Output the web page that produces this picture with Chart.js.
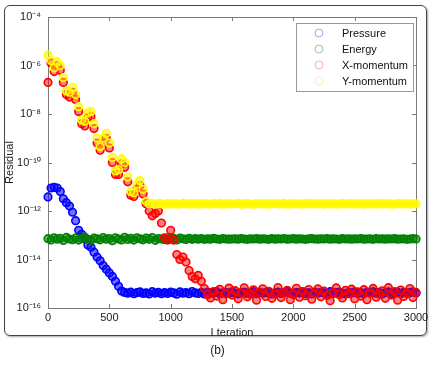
<!DOCTYPE html>
<html>
<head>
<meta charset="utf-8">
<script src="https://cdn.jsdelivr.net/npm/chart.js@4"></script>
<style>
  html, body { margin: 0; padding: 0; background: #fff; }
  #wrap { position: relative; width: 435px; height: 370px; }
  #frame { position: absolute; left: 4px; top: 5px; width: 421px; height: 329px;
           border: 1.5px solid #444; border-radius: 6px; box-shadow: 1px 1px 2px rgba(0,0,0,0.35); }
  #grafico { position: absolute; left: 0; top: 0; }
  #caption { position: absolute; left: 0; top: 343px; width: 435px; text-align: center;
             font: 12px "Liberation Sans", Arial, sans-serif; color: #222; }
</style>
</head>
<body>
<div id="wrap">
  <div id="frame"></div>
  <canvas id="grafico" width="435" height="370"></canvas>
  <div id="caption">(b)</div>
</div>
<script>
const iterations = [
  0, 25, 50, 75, 100, 125, 150, 175, 200, 225,
  250, 275, 300, 325, 350, 375, 400, 425, 450, 475,
  500, 525, 550, 575, 600, 625, 650, 675, 700, 725,
  750, 775, 800, 825, 850, 875, 900, 925, 950, 975,
  1000, 1025, 1050, 1075, 1100, 1125, 1150, 1175, 1200, 1225,
  1250, 1275, 1300, 1325, 1350, 1375, 1400, 1425, 1450, 1475,
  1500, 1525, 1550, 1575, 1600, 1625, 1650, 1675, 1700, 1725,
  1750, 1775, 1800, 1825, 1850, 1875, 1900, 1925, 1950, 1975,
  2000, 2025, 2050, 2075, 2100, 2125, 2150, 2175, 2200, 2225,
  2250, 2275, 2300, 2325, 2350, 2375, 2400, 2425, 2450, 2475,
  2500, 2525, 2550, 2575, 2600, 2625, 2650, 2675, 2700, 2725,
  2750, 2775, 2800, 2825, 2850, 2875, 2900, 2925, 2950, 2975,
  3000
];

const pressure = [
  3.8e-12, 8.9e-12, 9.5e-12, 8.9e-12, 6.3e-12, 3.2e-12, 2.2e-12, 1.6e-12, 8.9e-13, 4.0e-13,
  1.6e-13, 1.1e-13, 7.1e-14, 4.0e-14, 3.2e-14, 2.0e-14, 1.26e-14, 8.9e-15, 5.6e-15, 4.0e-15,
  2.8e-15, 2.0e-15, 1.26e-15, 7.9e-16, 5.0e-16, 4.4e-16, 4.1e-16, 4.5e-16, 3.9e-16, 4.3e-16,
  4.6e-16, 4.0e-16, 4.2e-16, 3.8e-16, 4.7e-16, 4.1e-16, 4.4e-16, 3.9e-16, 4.3e-16, 4.0e-16,
  4.5e-16, 4.2e-16, 3.7e-16, 4.6e-16, 4.1e-16, 4.3e-16, 3.9e-16, 4.8e-16, 4.2e-16, 4.0e-16,
  4.4e-16, 3.8e-16, 4.5e-16, 4.1e-16, 4.3e-16, 4.7e-16, 3.9e-16, 4.2e-16, 4.4e-16, 4.0e-16,
  4.6e-16, 4.1e-16, 3.8e-16, 4.3e-16, 4.5e-16, 4.0e-16, 4.2e-16, 4.7e-16, 3.9e-16, 4.4e-16,
  4.1e-16, 4.3e-16, 4.6e-16, 3.8e-16, 4.2e-16, 4.5e-16, 4.0e-16, 4.3e-16, 4.8e-16, 4.1e-16,
  3.9e-16, 4.4e-16, 4.2e-16, 4.6e-16, 4.0e-16, 4.3e-16, 3.8e-16, 4.5e-16, 4.1e-16, 4.4e-16,
  4.2e-16, 3.9e-16, 4.7e-16, 4.0e-16, 4.3e-16, 4.5e-16, 4.1e-16, 3.8e-16, 4.4e-16, 4.2e-16,
  4.6e-16, 4.0e-16, 4.3e-16, 3.9e-16, 4.5e-16, 4.2e-16, 4.7e-16, 4.1e-16, 4.4e-16, 3.8e-16,
  4.3e-16, 4.6e-16, 4.0e-16, 4.2e-16, 4.5e-16, 3.9e-16, 4.4e-16, 4.1e-16, 4.3e-16, 4.6e-16,
  4.2e-16
];

const energy = [
  7.2e-14, 6.4e-14, 7.9e-14, 6.9e-14, 7.5e-14, 6.1e-14, 8.1e-14, 7.0e-14, 6.6e-14, 7.7e-14,
  6.3e-14, 7.4e-14, 8.3e-14, 6.8e-14, 6.2e-14, 7.6e-14, 7.1e-14, 6.5e-14, 8.0e-14, 6.9e-14,
  7.3e-14, 6.0e-14, 7.8e-14, 7.0e-14, 6.4e-14, 8.2e-14, 6.7e-14, 7.5e-14, 6.3e-14, 7.9e-14,
  7.1e-14, 6.5e-14, 7.7e-14, 6.8e-14, 8.0e-14, 6.2e-14, 7.3e-14, 7.0e-14, 6.6e-14, 7.8e-14,
  6.9e-14, 7.4e-14, 6.4e-14, 7.6e-14, 7.1e-14, 6.7e-14, 7.5e-14, 6.8e-14, 7.2e-14, 6.9e-14,
  7.3e-14, 6.8e-14, 7.1e-14, 6.9e-14, 7.4e-14, 7.0e-14, 6.8e-14, 7.2e-14, 7.0e-14, 6.9e-14,
  7.0e-14, 7.1e-14, 6.9e-14, 7.2e-14, 7.0e-14, 6.8e-14, 7.1e-14, 7.0e-14, 7.2e-14, 6.9e-14,
  7.1e-14, 7.0e-14, 6.8e-14, 7.2e-14, 6.9e-14, 7.1e-14, 7.0e-14, 7.3e-14, 6.9e-14, 7.0e-14,
  7.2e-14, 6.9e-14, 7.1e-14, 7.0e-14, 6.8e-14, 7.1e-14, 7.2e-14, 7.0e-14, 6.9e-14, 7.1e-14,
  7.0e-14, 7.2e-14, 6.9e-14, 7.1e-14, 7.0e-14, 6.8e-14, 7.2e-14, 7.0e-14, 7.1e-14, 6.9e-14,
  7.1e-14, 7.0e-14, 7.2e-14, 6.9e-14, 7.0e-14, 7.1e-14, 6.8e-14, 7.2e-14, 7.0e-14, 7.1e-14,
  6.9e-14, 7.1e-14, 7.0e-14, 7.2e-14, 6.9e-14, 7.0e-14, 7.1e-14, 6.8e-14, 7.0e-14, 7.2e-14,
  7.0e-14
];

const xMomentum = [
  2.0e-7, 1.26e-6, 5.6e-7, 1.0e-6, 6.3e-7, 2.0e-7, 6.3e-8, 5.0e-8, 7.9e-8, 4.0e-8,
  1.26e-8, 4.0e-9, 3.2e-9, 7.1e-9, 7.9e-9, 2.5e-9, 6.3e-10, 3.2e-10, 6.3e-10, 1.0e-9,
  4.0e-10, 1.0e-10, 3.2e-11, 3.2e-11, 8.9e-11, 6.3e-11, 1.6e-11, 4.5e-12, 4.0e-12, 7.9e-12,
  1.12e-11, 5.0e-12, 2.0e-12, 1.0e-12, 6.3e-13, 7.9e-13, 1.0e-12, 3.2e-13, 7.9e-14, 6.3e-14,
  1.6e-13, 6.3e-14, 1.6e-14, 1.0e-14, 1.26e-14, 7.9e-15, 3.5e-15, 2.0e-15, 1.6e-15, 2.2e-15,
  1.26e-15, 6.3e-16, 3.5e-16, 2.6e-16, 4.8e-16, 3.1e-16, 5.9e-16, 2.2e-16, 3.9e-16, 6.6e-16,
  3.4e-16, 5.2e-16, 2.4e-16, 4.1e-16, 6.8e-16, 2.9e-16, 3.7e-16, 5.6e-16, 2.1e-16, 4.5e-16,
  6.2e-16, 3.0e-16, 4.9e-16, 2.5e-16, 3.8e-16, 7.0e-16, 2.7e-16, 4.3e-16, 5.4e-16, 2.2e-16,
  3.6e-16, 6.5e-16, 2.8e-16, 4.7e-16, 3.2e-16, 5.8e-16, 2.3e-16, 4.0e-16, 6.1e-16, 2.9e-16,
  5.0e-16, 3.3e-16, 2.0e-16, 4.4e-16, 6.7e-16, 3.5e-16, 2.6e-16, 5.3e-16, 3.9e-16, 6.0e-16,
  2.4e-16, 4.6e-16, 3.1e-16, 5.7e-16, 2.2e-16, 4.2e-16, 6.4e-16, 2.8e-16, 3.7e-16, 5.1e-16,
  2.5e-16, 6.9e-16, 3.4e-16, 4.8e-16, 2.1e-16, 5.5e-16, 3.0e-16, 4.1e-16, 6.3e-16, 2.7e-16,
  4.4e-16
];

const yMomentum = [
  2.7e-6, 1.6e-6, 7.9e-7, 1.4e-6, 1.0e-6, 3.2e-7, 8.9e-8, 7.9e-8, 1.26e-7, 6.3e-8,
  2.0e-8, 5.6e-9, 5.0e-9, 1.12e-8, 1.26e-8, 4.0e-9, 1.0e-9, 4.5e-10, 1.0e-9, 1.6e-9,
  6.3e-10, 1.6e-10, 4.5e-11, 5.0e-11, 1.4e-10, 1.0e-10, 2.5e-11, 6.3e-12, 5.6e-12, 1.26e-11,
  1.8e-11, 7.9e-12, 2.5e-12, 1.95e-12, 2.0e-12, 1.9e-12, 2.05e-12, 1.95e-12, 1.9e-12, 2.0e-12,
  1.92e-12, 2.02e-12, 1.95e-12, 1.9e-12, 2.05e-12, 1.98e-12, 1.93e-12, 2.0e-12, 1.96e-12, 1.91e-12,
  2.03e-12, 1.95e-12, 1.99e-12, 1.9e-12, 2.04e-12, 1.94e-12, 2.0e-12, 1.92e-12, 1.97e-12, 2.02e-12,
  1.93e-12, 1.98e-12, 2.05e-12, 1.91e-12, 1.96e-12, 2.01e-12, 1.94e-12, 1.9e-12, 2.03e-12, 1.97e-12,
  1.95e-12, 2.0e-12, 1.92e-12, 1.99e-12, 2.04e-12, 1.93e-12, 1.97e-12, 2.01e-12, 1.9e-12, 1.96e-12,
  2.02e-12, 1.94e-12, 1.98e-12, 1.91e-12, 2.05e-12, 1.95e-12, 2.0e-12, 1.93e-12, 1.97e-12, 2.03e-12,
  1.92e-12, 1.99e-12, 1.95e-12, 2.04e-12, 1.9e-12, 1.98e-12, 2.01e-12, 1.94e-12, 1.96e-12, 2.02e-12,
  1.93e-12, 2.0e-12, 1.97e-12, 1.91e-12, 2.03e-12, 1.95e-12, 1.99e-12, 1.92e-12, 2.05e-12, 1.96e-12,
  2.01e-12, 1.94e-12, 1.98e-12, 1.9e-12, 2.02e-12, 1.95e-12, 1.97e-12, 2.0e-12, 1.93e-12, 1.99e-12,
  1.95e-12
];

const xTicks = [0, 500, 1000, 1500, 2000, 2500, 3000];
const yTicks = [1e-16, 1e-14, 1e-12, 1e-10, 1e-8, 1e-6, 1e-4];

const fonte = { family: '"Liberation Sans", Arial, sans-serif', size: 11 };
const SUP = { '-': '\u207B', '0': '\u2070', '1': '\u00B9', '2': '\u00B2', '3': '\u00B3', '4': '\u2074',
              '5': '\u2075', '6': '\u2076', '7': '\u2077', '8': '\u2078', '9': '\u2079' };

function potencia(v) {
  const e = String(Math.round(Math.log10(v)));
  return '10' + e.split('').map(c => SUP[c]).join('');
}

function pontos(valores) {
  return iterations.map((it, i) => ({ x: it, y: valores[i] }));
}

// caixa dos eixos com marcas para dentro (estilo matlab)
const caixa = {
  id: 'caixa',
  beforeDatasetsDraw(chart) {
    const { ctx, chartArea: a, scales: { x, y } } = chart;
    ctx.save();
    ctx.strokeStyle = '#7a7a7a';
    ctx.lineWidth = 1;
    ctx.strokeRect(Math.round(a.left) + 0.5, Math.round(a.top) + 0.5,
                   Math.round(a.right - a.left), Math.round(a.bottom - a.top));
    ctx.beginPath();
    xTicks.forEach(v => {
      const px = Math.round(x.getPixelForValue(v)) + 0.5;
      ctx.moveTo(px, a.bottom); ctx.lineTo(px, a.bottom - 4);
      ctx.moveTo(px, a.top); ctx.lineTo(px, a.top + 4);
    });
    yTicks.forEach(v => {
      const py = Math.round(y.getPixelForValue(v)) + 0.5;
      ctx.moveTo(a.left, py); ctx.lineTo(a.left + 4, py);
      ctx.moveTo(a.right, py); ctx.lineTo(a.right - 4, py);
    });
    ctx.stroke();
    ctx.restore();
  }
};

// legenda dentro da area do grafico, canto superior direito
const legenda = {
  id: 'legenda',
  afterDatasetsDraw(chart) {
    const { ctx } = chart;
    const cores = ['rgba(90,90,220,0.55)', 'rgba(60,130,60,0.5)', 'rgba(220,90,90,0.45)', 'rgba(240,220,90,0.45)'];
    ctx.save();
    ctx.fillStyle = '#fff';
    ctx.fillRect(296.5, 23.5, 117, 68);
    ctx.strokeStyle = '#999';
    ctx.lineWidth = 1;
    ctx.strokeRect(296.5, 23.5, 117, 68);
    ctx.font = '11px "Liberation Sans", Arial, sans-serif';
    ctx.textBaseline = 'middle';
    chart.data.datasets.forEach((ds, i) => {
      const yy = 33 + i * 16;
      ctx.beginPath();
      ctx.arc(319, yy, 4, 0, Math.PI * 2);
      ctx.strokeStyle = cores[i];
      ctx.stroke();
      ctx.fillStyle = '#111';
      ctx.fillText(ds.label, 342, yy + 0.5);
    });
    ctx.restore();
  }
};

function serie(label, valores, cor, preenchimento, ordem) {
  return {
    label,
    data: pontos(valores),
    showLine: false,
    pointStyle: 'circle',
    pointRadius: 3.8,
    pointBorderWidth: 1.6,
    pointBackgroundColor: preenchimento,
    pointBorderColor: cor,
    order: ordem,
    clip: false
  };
}

new Chart(document.getElementById('grafico'), {
  type: 'scatter',
  data: {
    datasets: [
      serie('Pressure', pressure, '#0000ff', 'rgba(0,0,255,0.55)', 3),
      serie('Energy', energy, '#008000', 'rgba(0,128,0,0.55)', 2),
      serie('X-momentum', xMomentum, '#ff0000', 'rgba(255,0,0,0.5)', 1),
      serie('Y-momentum', yMomentum, '#ffff00', 'rgba(255,235,0,0.5)', 0)
    ]
  },
  options: {
    responsive: false,
    animation: false,
    devicePixelRatio: 1,
    events: [],
    layout: { padding: { left: 0, top: 17, right: 19, bottom: 27 } },
    scales: {
      x: {
        type: 'linear', min: 0, max: 3000,
        afterBuildTicks: s => { s.ticks = xTicks.map(v => ({ value: v })); },
        afterFit: s => { s.height = 35; },
        ticks: { font: fonte, color: '#222', padding: 3, maxRotation: 0, autoSkip: false, callback: v => String(v) },
        grid: { display: false, drawTicks: false },
        border: { display: false },
        title: { display: true, text: 'I teration', font: fonte, color: '#222', padding: { top: 3, bottom: 3 } }
      },
      y: {
        type: 'logarithmic', min: 1e-16, max: 1e-4,
        afterBuildTicks: s => { s.ticks = yTicks.map(v => ({ value: v })); },
        afterFit: s => { s.width = 48; },
        ticks: { font: fonte, color: '#222', padding: 7, crossAlign: 'near', autoSkip: false, callback: v => potencia(v) },
        grid: { display: false, drawTicks: false },
        border: { display: false },
        title: { display: true, text: 'Residual', font: fonte, color: '#222', padding: { top: 3, bottom: 0 } }
      }
    },
    plugins: {
      legend: { display: false },
      tooltip: { enabled: false }
    }
  },
  plugins: [caixa, legenda]
});
</script>
</body>
</html>
